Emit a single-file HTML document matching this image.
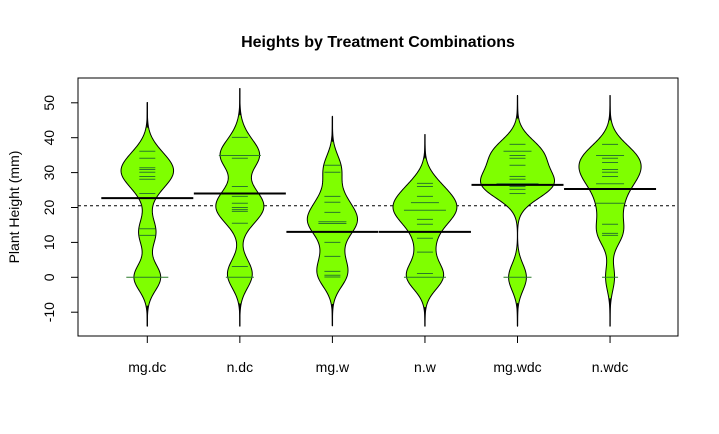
<!DOCTYPE html>
<html><head><meta charset="utf-8"><style>
body{margin:0;background:#fff;}
svg{display:block;font-family:"Liberation Sans",Arial,sans-serif;}
</style></head><body>
<svg id="chart" width="719" height="434" viewBox="0 0 719 434">
<rect width="719" height="434" fill="#fff"/>
<text x="378" y="47" text-anchor="middle" font-size="16" font-weight="bold">Heights by Treatment Combinations</text>
<text transform="translate(19,207) rotate(-90)" text-anchor="middle" font-size="14">Plant Height (mm)</text>
<g id="beans"></g>
<rect x="78" y="78" width="600" height="258" fill="none" stroke="#000" stroke-width="1"/>
<g id="axes"></g>
</svg>
<script>
const categories = ["mg.dc","n.dc","mg.w","n.w","mg.wdc","n.wdc"];
const obsMgDc = [36.1,34.1,31.4,30.9,30.1,28.9,28.1,24.0,13.9,12.0,0,0,0];
const obsNDc = [40.1,34.9,34.9,34.9,34.1,26.0,23.2,21.2,20.0,19.4,18.9,15.5,3.1,0,0];
const obsMgW = [32.1,30.1,23.2,21.5,18.6,15.9,15.9,15.4,15.4,10.0,6.0,1.7,0.6,0.1];
const obsNW = [26.9,26.0,23.2,21.4,21.4,19.2,19.2,19.2,16.6,15.2,11.2,7.2,1.1,0,0,0];
const obsMgWdc = [38.1,36.1,36.1,34.9,34.1,32.1,28.9,28.1,26.8,26.8,26.8,26.0,25.2,24.0,0,0];
const obsNWdc = [38.1,34.9,34.9,34.1,32.9,30.9,30.1,28.9,26.8,26.8,21.2,21.2,15.2,12.6,12.0,0];
const groupMeans = [22.7,24.0,13.0,13.0,26.5,25.3];
const overallMean = 20.5;
const yTicks = [-10,0,10,20,30,40,50];

const series = [obsMgDc,obsNDc,obsMgW,obsNW,obsMgWdc,obsNWdc];
const NS="http://www.w3.org/2000/svg";
const yScale = v => 277.3 - 3.49*v;
const xScale = i => 147.3 + 92.55*i;
const bw = 3.8, cut = 14;
const beans = document.getElementById('beans');
const axes = document.getElementById('axes');
function mk(tag, attrs, parent){const e=document.createElementNS(NS,tag);for(const k in attrs)e.setAttribute(k,attrs[k]);parent.appendChild(e);return e;}
function dens(obs,v){let s=0;for(const o of obs){const z=(v-o)/bw;s+=Math.exp(-z*z/2);}return s;}
const profiles = series.map(obs=>{const lo=Math.min(...obs)-cut, hi=Math.max(...obs)+cut;const pts=[];for(let k=0;k<=240;k++){const v=lo+(hi-lo)*k/240;pts.push([v,dens(obs,v)]);}return pts;});
let maxD=0;profiles.forEach(p=>p.forEach(q=>{if(q[1]>maxD)maxD=q[1];}));
const maxW=37;
const ml = mk('line',{x1:78,x2:678,y1:yScale(overallMean),y2:yScale(overallMean),stroke:'#000','stroke-width':1,'stroke-dasharray':'3,3'},beans);


profiles.forEach((p,i)=>{
  const cx=xScale(i);
  const w=q=>q[1]/maxD*maxW;
  const right=p.map(q=>(cx+w(q)).toFixed(2)+','+yScale(q[0]).toFixed(2));
  const left=p.slice().reverse().map(q=>(cx-w(q)).toFixed(2)+','+yScale(q[0]).toFixed(2));
  const poly=mk('polygon',{points:right.concat(left).join(' '),fill:'#7FFF00',stroke:'#000','stroke-width':1},beans);
  
  
  // tails: from extreme to where width exceeds 1.2px
  let a=0; while(a<p.length-1 && w(p[a])<1.2) a++;
  let b=p.length-1; while(b>0 && w(p[b])<1.2) b--;
  const t1=mk('line',{x1:cx,x2:cx,y1:yScale(p[0][0]),y2:yScale(p[a][0]),stroke:'#000','stroke-width':1.3},beans);
  
  
  const t2=mk('line',{x1:cx,x2:cx,y1:yScale(p[b][0]),y2:yScale(p[p.length-1][0]),stroke:'#000','stroke-width':1.3},beans);
  
  
  const counts={};series[i].forEach(o=>{counts[o]=(counts[o]||0)+1;});
  Object.keys(counts).forEach(k=>{const v=+k, c=counts[k];const hw=c>1?7*c:8;
    const bl=mk('line',{x1:cx-hw,x2:cx+hw,y1:yScale(v),y2:yScale(v),stroke:'#2a7a2a','stroke-width':1},beans);
    
    
  });
  const gm=mk('line',{x1:cx-46,x2:cx+46,y1:yScale(groupMeans[i]),y2:yScale(groupMeans[i]),stroke:'#000','stroke-width':2},beans);
  
  
  const t=mk('line',{x1:cx,x2:cx,y1:336,y2:343,stroke:'#000'},axes);
  
  
  const lb=mk('text',{x:cx,y:372,'text-anchor':'middle','font-size':14},axes);
  lb.textContent=categories[i];
  
  
});
yTicks.forEach(v=>{
  const y=yScale(v);
  const t=mk('line',{x1:71,x2:78,y1:y,y2:y,stroke:'#000'},axes);
  
  
  const lb=mk('text',{transform:`translate(54,${y}) rotate(-90)`,'text-anchor':'middle','font-size':14},axes);
  lb.textContent=String(v);
  
  
});
</script>
</body></html>
